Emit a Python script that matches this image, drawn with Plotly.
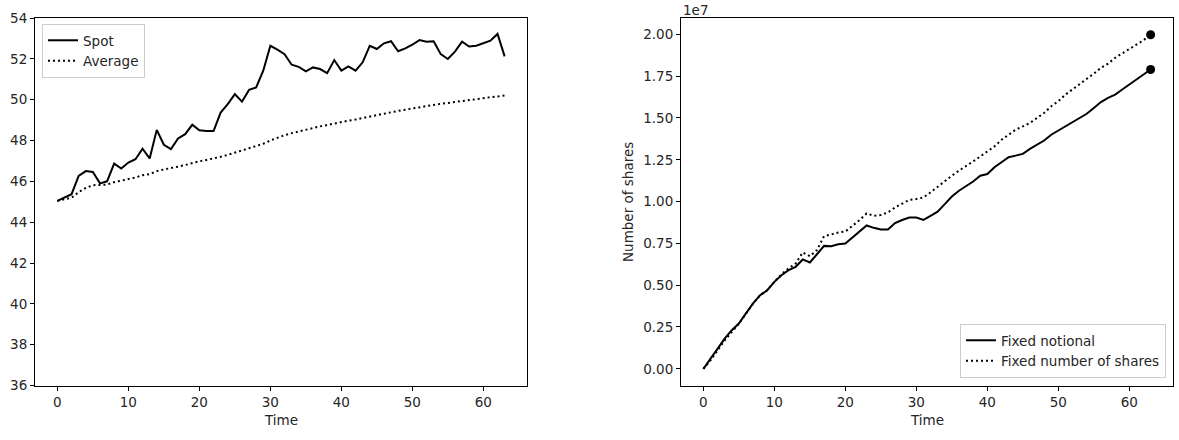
import plotly.graph_objects as go

# ---------------- data ----------------
time = list(range(64))

spot = [45.04, 45.2, 45.37, 46.27, 46.5, 46.46, 45.9, 46.0, 46.87, 46.63,
        46.92, 47.08, 47.6, 47.12, 48.52, 47.79, 47.58, 48.1, 48.31, 48.77,
        48.5, 48.46, 48.46, 49.37, 49.78, 50.27, 49.9, 50.48, 50.6, 51.42,
        52.64, 52.45, 52.23, 51.71, 51.61, 51.39, 51.58, 51.5, 51.3, 51.94,
        51.42, 51.63, 51.42, 51.83, 52.64, 52.48, 52.76, 52.86, 52.37, 52.51,
        52.69, 52.92, 52.84, 52.86, 52.23, 51.99, 52.35, 52.84, 52.6, 52.64,
        52.77, 52.89, 53.22, 52.12]

average = [45.04, 45.12, 45.2, 45.47, 45.68, 45.81, 45.82, 45.84, 45.96, 46.02,
           46.11, 46.19, 46.3, 46.35, 46.5, 46.58, 46.64, 46.72, 46.8, 46.9,
           46.98, 47.05, 47.11, 47.2, 47.3, 47.42, 47.51, 47.62, 47.72, 47.84,
           48.0, 48.14, 48.26, 48.36, 48.45, 48.54, 48.62, 48.69, 48.76, 48.84,
           48.9, 48.97, 49.03, 49.09, 49.17, 49.24, 49.31, 49.39, 49.45, 49.51,
           49.57, 49.64, 49.7, 49.76, 49.8, 49.84, 49.88, 49.93, 49.98, 50.03,
           50.07, 50.12, 50.17, 50.2]

# number of shares, in units of 1e7
fixed_notional = [0.0, 0.062, 0.122, 0.18, 0.231, 0.271, 0.331, 0.391, 0.44, 0.47,
                  0.52, 0.56, 0.59, 0.61, 0.654, 0.636, 0.685, 0.735, 0.733, 0.745,
                  0.749, 0.785, 0.825, 0.857, 0.843, 0.833, 0.833, 0.872, 0.89, 0.905,
                  0.905, 0.89, 0.915, 0.94, 0.985, 1.03, 1.065, 1.09, 1.12, 1.155,
                  1.165, 1.205, 1.235, 1.265, 1.275, 1.285, 1.315, 1.34, 1.365, 1.4,
                  1.425, 1.45, 1.475, 1.5, 1.525, 1.56, 1.595, 1.62, 1.64, 1.67,
                  1.7, 1.73, 1.76, 1.79]

fixed_shares = [0.0, 0.05, 0.11, 0.17, 0.22, 0.27, 0.33, 0.39, 0.44, 0.47,
                0.52, 0.565, 0.6, 0.63, 0.696, 0.673, 0.71, 0.793, 0.803, 0.815,
                0.821, 0.853, 0.889, 0.929, 0.915, 0.92, 0.935, 0.965, 0.99, 1.01,
                1.015, 1.025, 1.055, 1.09, 1.12, 1.155, 1.185, 1.21, 1.24, 1.27,
                1.3, 1.33, 1.37, 1.4, 1.43, 1.45, 1.47, 1.5, 1.53, 1.57,
                1.6, 1.64, 1.67, 1.7, 1.735, 1.765, 1.8, 1.825, 1.86, 1.885,
                1.91, 1.935, 1.965, 1.998]

x_ticks = [0, 10, 20, 30, 40, 50, 60]
left_y_ticks = [36, 38, 40, 42, 44, 46, 48, 50, 52, 54]
right_y_ticks = [0.0, 0.25, 0.5, 0.75, 1.0, 1.25, 1.5, 1.75, 2.0]

# ---------------- figure ----------------
FONT = "DejaVu Sans"
FS = 13.5
TXT = "#262626"
W, H = 1179, 440
DOT = "2px,3px"

fig = go.Figure()

fig.add_trace(go.Scatter(x=time, y=spot, mode="lines", name="Spot",
                         line=dict(color="black", width=2), xaxis="x", yaxis="y",
                         legend="legend"))
fig.add_trace(go.Scatter(x=time, y=average, mode="lines", name="Average",
                         line=dict(color="black", width=2, dash=DOT), xaxis="x", yaxis="y",
                         legend="legend"))

fig.add_trace(go.Scatter(x=time, y=fixed_notional, mode="lines", name="Fixed notional",
                         line=dict(color="black", width=2), xaxis="x2", yaxis="y2",
                         legend="legend2"))
fig.add_trace(go.Scatter(x=time, y=fixed_shares, mode="lines", name="Fixed number of shares",
                         line=dict(color="black", width=2, dash=DOT), xaxis="x2", yaxis="y2",
                         legend="legend2"))
fig.add_trace(go.Scatter(x=[time[-1], time[-1]], y=[fixed_notional[-1], fixed_shares[-1]],
                         mode="markers", marker=dict(color="black", size=9),
                         showlegend=False, xaxis="x2", yaxis="y2"))

ydom = [1 - 385.5 / H, 1 - 18 / H]
axis_common = dict(showline=True, linecolor="black", linewidth=1, mirror=True,
                   ticks="outside", ticklen=4, tickcolor="black", tickwidth=1,
                   showgrid=False, zeroline=False, automargin=False,
                   tickfont=dict(family=FONT, size=FS, color=TXT))

fig.update_layout(
    template="none",
    width=W, height=H,
    margin=dict(l=0, r=0, t=0, b=0, autoexpand=False),
    paper_bgcolor="white", plot_bgcolor="white",
    font=dict(family=FONT, size=FS, color=TXT),
    xaxis=dict(domain=[35 / W, 527 / W], range=[-3.15, 66.15], tickvals=x_ticks,
               anchor="y", **axis_common),
    yaxis=dict(domain=ydom, range=[36, 54], tickvals=left_y_ticks, anchor="x",
               **axis_common),
    xaxis2=dict(domain=[681 / W, 1173 / W], range=[-3.15, 66.15], tickvals=x_ticks,
                anchor="y2", **axis_common),
    yaxis2=dict(domain=ydom, range=[-0.0999, 2.0979], tickvals=right_y_ticks,
                tickformat=".2f", anchor="x2", **axis_common),
    legend=dict(x=42 / W, y=1 - 24 / H, xanchor="left", yanchor="top",
                bgcolor="rgba(255,255,255,0.8)", bordercolor="#cccccc", borderwidth=1,
                font=dict(family=FONT, size=FS, color=TXT), tracegroupgap=0),
    legend2=dict(x=1166 / W, y=1 - 378 / H, xanchor="right", yanchor="bottom",
                 bgcolor="rgba(255,255,255,0.8)", bordercolor="#cccccc", borderwidth=1,
                 font=dict(family=FONT, size=FS, color=TXT), tracegroupgap=0),
    annotations=[
        dict(text="Time", x=281 / W, y=1 - 420 / H, xref="paper", yref="paper",
             showarrow=False, xanchor="center", yanchor="middle",
             font=dict(family=FONT, size=FS, color=TXT)),
        dict(text="Time", x=927 / W, y=1 - 420 / H, xref="paper", yref="paper",
             showarrow=False, xanchor="center", yanchor="middle",
             font=dict(family=FONT, size=FS, color=TXT)),
        dict(text="Number of shares", x=628 / W, y=1 - 202 / H, xref="paper", yref="paper",
             showarrow=False, xanchor="center", yanchor="middle", textangle=-90,
             font=dict(family=FONT, size=FS, color=TXT)),
        dict(text="1e7", x=681 / W, y=1 - 10 / H, xref="paper", yref="paper",
             showarrow=False, xanchor="left", yanchor="middle",
             font=dict(family=FONT, size=FS, color=TXT)),
    ],
)

fig.write_html("out.html")
